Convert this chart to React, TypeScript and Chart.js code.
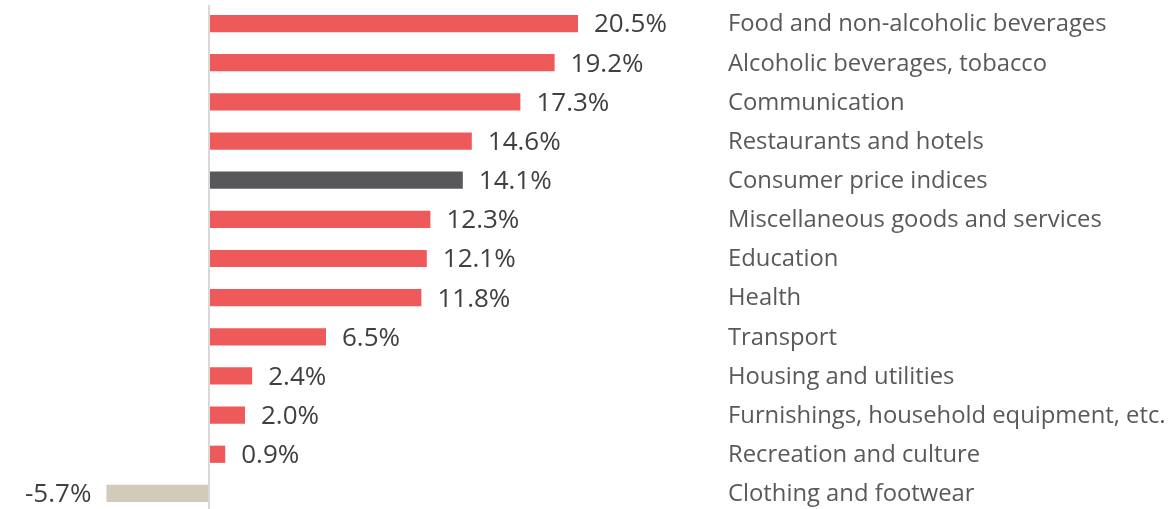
import React, { useEffect, useRef } from "react";
import { Chart, registerables } from "chart.js";

Chart.register(...registerables);

const categories = [
  "Food and non-alcoholic beverages",
  "Alcoholic beverages, tobacco",
  "Communication",
  "Restaurants and hotels",
  "Consumer price indices",
  "Miscellaneous goods and services",
  "Education",
  "Health",
  "Transport",
  "Housing and utilities",
  "Furnishings, household equipment, etc.",
  "Recreation and culture",
  "Clothing and footwear",
];

const values = [20.5, 19.2, 17.3, 14.6, 14.1, 12.3, 12.1, 11.8, 6.5, 2.4, 2.0, 0.9, -5.7];

const RED = "#EE5A5A";
const DARK = "#58585A";
const BEIGE = "#D3CBBA";

const barColors = values.map((v, i) =>
  categories[i] === "Consumer price indices" ? DARK : v < 0 ? BEIGE : RED
);

const FONT = "'Open Sans', 'Noto Sans', sans-serif";

export default function App() {
  const ref = useRef<HTMLCanvasElement | null>(null);

  useEffect(() => {
    if (!ref.current) return;

    const zeroLine = {
      id: "zeroLine",
      afterDatasetsDraw(chart: any) {
        const ctx = chart.ctx;
        const x = chart.scales.x.getPixelForValue(0);
        ctx.save();
        ctx.strokeStyle = "#D9D9D9";
        ctx.lineWidth = 2;
        ctx.beginPath();
        ctx.moveTo(x, 5);
        ctx.lineTo(x, 509);
        ctx.stroke();
        ctx.restore();
      },
    };

    const labelsPlugin = {
      id: "labelsPlugin",
      afterDatasetsDraw(chart: any) {
        const ctx = chart.ctx;
        const meta = chart.getDatasetMeta(0);
        const right = chart.chartArea.right;
        ctx.save();
        ctx.textBaseline = "middle";
        meta.data.forEach((bar: any, i: number) => {
          const v = values[i];
          const txt = v.toFixed(1) + "%";
          ctx.font = `26px ${FONT}`;
          ctx.fillStyle = "#404040";
          if (v >= 0) {
            ctx.textAlign = "left";
            ctx.fillText(txt, bar.x + 16, bar.y + 1.5);
          } else {
            ctx.textAlign = "right";
            ctx.fillText(txt, bar.x - 15, bar.y + 1.5);
          }
          ctx.font = `23.8px ${FONT}`;
          ctx.fillStyle = "#595959";
          ctx.textAlign = "left";
          ctx.fillText(categories[i], right + 10, bar.y + 1);
        });
        ctx.restore();
      },
    };

    const chart = new Chart(ref.current, {
      type: "bar",
      data: {
        labels: categories,
        datasets: [
          {
            data: values,
            backgroundColor: barColors,
            borderWidth: 0,
            barPercentage: 0.44,
            categoryPercentage: 1,
          },
        ],
      },
      options: {
        indexAxis: "y",
        animation: false,
        responsive: false,
        maintainAspectRatio: false,
        layout: { padding: { top: 4, bottom: 0, left: 0, right: 450 } },
        plugins: {
          legend: { display: false },
          tooltip: { enabled: false },
        },
        scales: {
          x: {
            display: false,
            min: -209 / 18,
            max: (718 - 209) / 18,
          },
          y: {
            display: false,
          },
        },
      },
      plugins: [zeroLine, labelsPlugin],
    });

    return () => chart.destroy();
  }, []);

  return (
    <div style={{ position: "fixed", left: 0, top: 0, width: 1168, height: 513, background: "#fff" }}>
      <canvas ref={ref} width={1168} height={513} style={{ display: "block" }} />
    </div>
  );
}
